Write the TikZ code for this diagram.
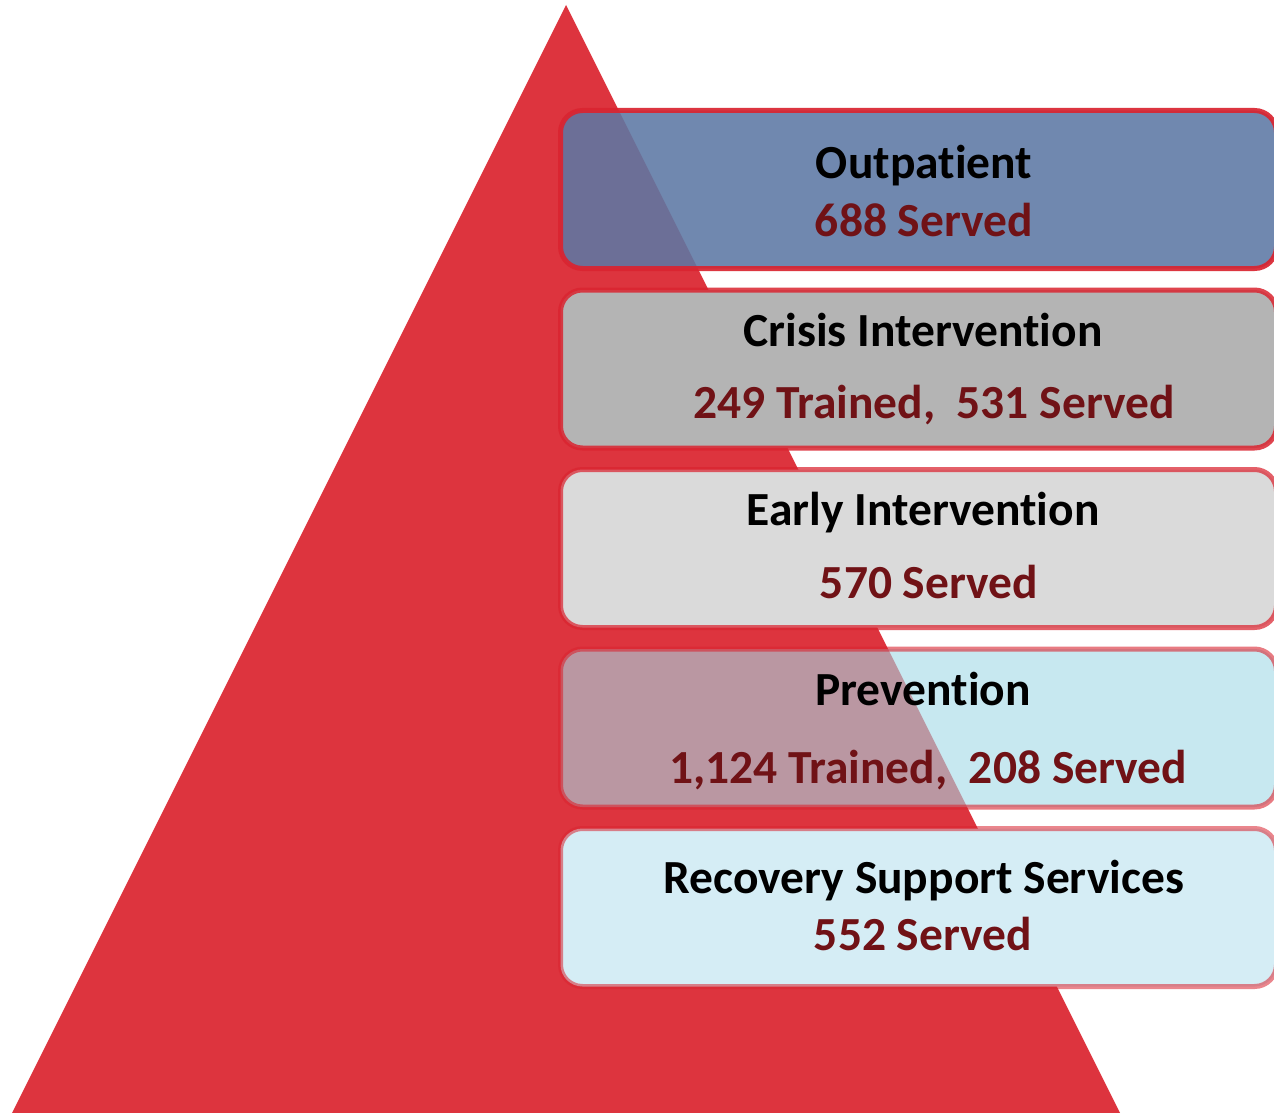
\documentclass[tikz,border=0pt]{standalone}
\usepackage{fontspec}
\setmainfont{Carlito}[Ligatures={NoCommon,NoContextual,NoRare}]
\newcommand{\tinl}{t\kern0pt i}
\definecolor{tri}{RGB}{221,52,62}
\definecolor{bord}{RGB}{218,36,48}
\definecolor{fblue}{RGB}{93,120,164}
\definecolor{fgray}{RGB}{180,180,180}
\definecolor{flgray}{RGB}{218,218,218}
\definecolor{fcyan}{RGB}{163,217,230}
\definecolor{fpale}{RGB}{213,237,245}
\definecolor{numred}{RGB}{112,18,22}
\tikzset{
  tierbox/.style={draw=bord, line width=5pt, rounded corners=22pt, anchor=north west,
    minimum width=716pt, minimum height=158pt, inner sep=0pt, outer sep=0pt},
  ttl/.style={anchor=base, text=black, font=\fontsize{47.5}{55}\selectfont\bfseries, inner sep=0pt},
  num/.style={anchor=base, text=numred, font=\fontsize{47.5}{55}\selectfont\bfseries, inner sep=0pt}
}
\begin{document}
\begin{tikzpicture}[x=1pt,y=-1pt]
\useasboundingbox (0,0) rectangle (1274,1113);
\fill[white] (0,0) rectangle (1274,1113);
\fill[tri] (566,5) -- (12,1113) -- (1120,1113) -- cycle;
\node[tierbox, fill=fblue, fill opacity=0.88, draw opacity=0.92] (b1) at (560.5,110.5) {};
\node[tierbox, fill=fgray, draw opacity=0.85] (b2) at (560.5,290) {};
\node[tierbox, fill=flgray, draw opacity=0.72] (b3) at (560.5,469.5) {};
\node[tierbox, fill=fcyan, fill opacity=0.6, draw opacity=0.6] (b4) at (560.5,649) {};
\node[tierbox, fill=fpale, draw opacity=0.55] (b5) at (560.5,828.5) {};
\node[ttl] (t1) at (924,178) {Outpa\tinl ent};
\node[num] (n1) at (924,236) {688 Served};
\node[ttl] (t2) at (923,346) {Crisis Interven\tinl on};
\node[num] (n2) at (934,418) {249 Trained,\ \ 531 Served};
\node[ttl] (t3) at (923,525) {Early Interven\tinl on};
\node[num] (n3) at (929,598) {570 Served};
\node[ttl] (t4) at (923,705) {Preven\tinl on};
\node[num] (n4) at (928,783) {1,124 Trained,\ \ 208 Served};
\node[ttl] (t5) at (924,893) {Recovery Support Services};
\node[num] (n5) at (923,950) {552 Served};
\end{tikzpicture}
\end{document}
